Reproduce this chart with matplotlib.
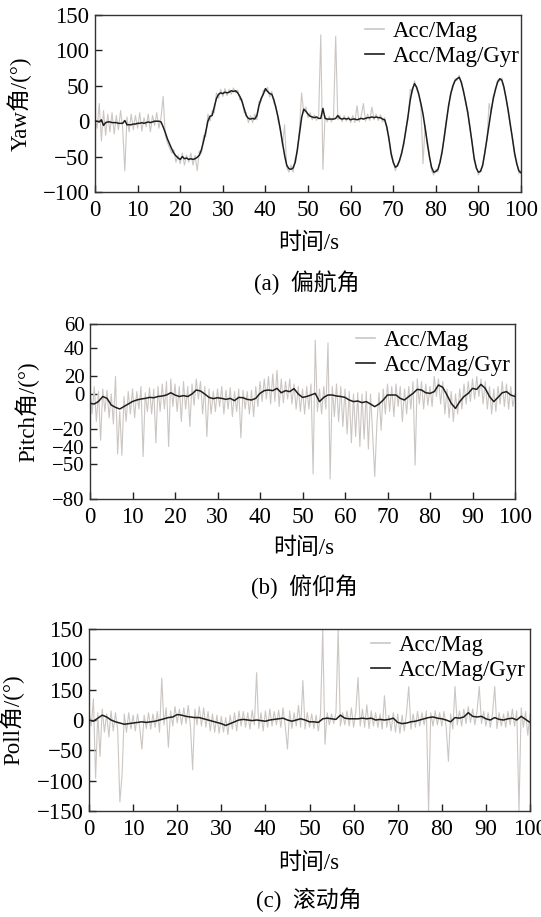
import numpy as np
import matplotlib
matplotlib.use("Agg")
import matplotlib.pyplot as plt

plt.rcParams['font.family'] = ['Liberation Serif', 'Noto Sans CJK SC', 'DejaVu Sans']
plt.rcParams['axes.unicode_minus'] = True

# ---------------- data ----------------
yaw_gyr = [0, 0, -1, 2, -6, -2, -1, -1, -2, -2, -2, -3, -3, -3, 1, -5, -5, -5, -4, -4,
           -3, -3, -2, -3, -2, -1, -2, -1, 0, 0, 0, -1, -8, -16, -25, -32, -39, -45, -49, -52,
           -54, -50, -53, -52, -54, -53, -54, -53, -51, -48, -40, -28, -15, 0, 7, 8, 20, 32, 38, 40,
           39, 41, 40, 41, 43, 42, 43, 40, 35, 28, 18, 8, 4, 3, 4, 3, 8, 22, 32, 38,
           46, 42, 39, 38, 30, 18, 5, -12, -30, -48, -62, -67, -68, -66, -58, -40, -18, 5, 17, 14,
           10, 7, 6, 5, 6, 4, 4, 18, 4, 3, 3, 3, 3, 4, 8, 4, 3, 4, 3, 4,
           2, 3, 3, 2, 3, 4, 3, 4, 5, 5, 6, 5, 6, 5, 5, 3, 2, -8, -25, -45,
           -58, -65, -63, -55, -45, -30, -12, 8, 30, 45, 53, 48, 38, 25, 10, -10, -30, -50, -65, -72,
           -71, -68, -58, -42, -22, 0, 22, 38, 50, 57, 60, 62, 55, 42, 28, 12, -8, -30, -52, -66,
           -72, -71, -62, -45, -25, -5, 15, 32, 45, 55, 60, 58, 48, 32, 15, -5, -25, -45, -60, -70,
           -73]
yaw_mag = [5, -10, 25, -28, 15, -20, 10, -15, 12, -18, 8, -12, 15, -10, -70, 6, -15, 10, -12, 8,
           -10, 12, -14, 5, -8, 10, -15, 8, -6, 12, -10, 5, 35, -20, -30, -38, -45, -40, -58, -48,
           -60, -45, -62, -48, -58, -45, -62, -48, -70, -42, -45, -20, -22, 10, 0, 15, 12, 40, 32, 45,
           35, 46, 36, 45, 38, 47, 40, 44, 30, 32, 12, 12, -2, 8, -2, 10, 2, 28, 28, 44,
           42, 48, 34, 42, 25, 22, 0, -8, -35, -5, -65, -72, -62, -72, -52, -45, -10, 40, 12, 20,
           5, 12, 2, 9, 1, 8, 122, -68, 8, -1, 7, -1, 6, 120, 2, 8, -1, 8, 0, 7,
           -2, 8, -2, 22, -1, 8, 25, 0, 10, 1, 20, 2, 10, 1, 9, -1, 5, -12, -22, -50,
           -55, -70, -60, -58, -42, -34, -8, 2, 45, 40, 57, 45, 40, 20, -60, -5, -35, -46, -70, -76,
           -68, -72, -54, -46, -18, 4, 18, 42, 46, 60, 58, 65, 52, 45, 24, 15, -12, -27, -56, -63,
           -76, -68, -65, -42, -28, 25, 12, 36, 42, 58, 57, 61, 45, 35, 12, -8, -22, -50, -57, -74,
           -70]

pitch_gyr = [-3.5, -4, -2, 2, 0.5, -4.8, -6.7, -8, -6, -4, -2, -0.8, 0, 0.5, 1.3, 1, 2, 2.4, 3.2, 5,
             3.2, 2, 2.7, 2, 4, 7.2, 6.4, 4, 1.3, 0.3, 1, 0.5, -0.3, 0.5, -1.3, 1.3, 1, -0.3, -0.8, 0.5,
             4.5, 6.7, 7.2, 6.7, 8.5, 5, 6.7, 5.9, 8.3, 4, 1.3, 2, 3.2, 4.5, -2.1, 1.3, 3.2, 3.2, 2.4, 2,
             1.3, -0.8, -2.1, -1.6, -2.9, -2.1, -4, -6.1, -4, -0.8, 3.2, 3.2, 3.2, 0.5, -0.8, 2, 4.5, 7.7, 7.2, 5,
             4.5, 5.9, 11.2, 9.3, 3.2, -3.5, -7.5, -2.1, 2, 4.5, 8.5, 7.7, 11.7, 8.5, 2, -2.1, 1.3, 5, 5.9, 3.2,
             2]
pitch_mag = [8, -12, 10, -18, 6, -33, 8, -10, 7, -15, 4, -20, 18, -44, -10, -45, 2, -18, 6, -12,
             8, -15, 6, -8, 10, -46, 5, -10, 9, -12, 8, -35, 10, -10, 12, -8, 14, -38, 16, -6,
             12, -10, 10, -18, 14, -8, 10, -22, 12, -5, 16, 0, 14, -12, 10, -30, 8, -12, 6, -10,
             8, -6, 10, -12, 7, -8, 9, -14, 6, -10, 8, -31, 7, -8, 6, -12, 7, -14, 10, -6,
             14, -2, 16, 0, 18, -4, 20, -2, 23, -6, 16, -3, 14, 0, 16, -4, 12, -8, 10, -10,
             8, -12, 10, -8, 12, -60, 47, -10, 8, -12, 10, -8, 45, -64, 10, -14, 12, -18, 10, -22,
             8, -28, 6, -35, 4, -30, 5, -38, 4, -32, 6, -40, 4, -28, -62, -20, 5, -25, 8, -12,
             12, -10, 10, -14, 12, -6, 10, -18, 8, -12, 10, -8, 14, -53, 16, -4, 14, -8, 12, -5,
             10, -6, 18, 2, 16, -4, 14, -12, 8, -15, 6, -18, 4, -12, 8, -8, 12, -4, 14, -2,
             16, 0, 18, 2, 16, -4, 14, -8, 10, -12, 8, -10, 10, -4, 14, -6, 12, -8, 10, -6,
             4]

roll_gyr = [0, -2, 3, 8, 5, 0, -3, -5, -7, -6, -5, -4, -3, -4, -3, -2, 0, 2, 4, 5,
            9, 8, 6, 5, 4, 4, 2, 0, -2, -4, -6, -9, -6, -3, 0, 1, 0, -1, 0, -1,
            -2, 0, 1, 2, 3, 0, -2, 0, 2, 0, -3, -3, -4, 2, 3, 2, 1, 8, 3, 2,
            2, 2, 3, 2, 3, 0, 1, 0, 1, 3, -4, -6, -5, -3, -2, 0, 2, 4, 5, 3,
            2, 0, -3, 4, 3, 5, 12, 6, 5, 6, 2, 0, 4, 1, 0, 2, 3, 0, 6, 1,
            -4]
roll_mag = [15, -10, 35, -96, 12, -60, 18, -20, 10, -28, 15, -18, 12, -15, -135, -90, 10, -20, 12, -15,
            8, -18, 10, -12, -48, 8, -14, 12, -15, 10, -12, 14, -20, 69, -8, 20, -45, 15, -10, 22,
            -5, 18, -8, 20, -6, 24, -10, -82, 18, -8, 22, -10, 20, -12, 14, -18, 10, -20, 8, -22,
            6, -20, 4, -24, 8, -15, 12, -18, 15, -10, 14, -12, 12, -15, 16, -8, 78, -14, 12, -18,
            15, -12, 18, -10, 14, -8, 16, -12, 20, -10, -48, 15, -14, 12, -10, 24, -12, 65, -15, 12,
            -12, 10, -14, 8, -18, 10, 150, -40, 12, -8, 10, -6, 12, 148, -10, 12, -8, 15, -10, 20,
            -12, 14, 70, -10, 18, -12, 25, -14, 15, -10, 12, -12, 10, -15, 40, -12, 8, -18, 12, -20,
            10, -22, 8, -18, 12, 55, -15, 10, -12, 14, -10, 12, -8, 15, -150, 12, -10, 15, -8, 12,
            -10, 14, -12, -68, 10, -15, 55, -8, 15, -10, 18, -6, 22, -4, 18, -8, 15, 55, -6, 14,
            -10, 12, -12, 10, 55, -14, 12, -10, 10, -12, 14, -8, 18, -10, 15, -150, 20, -12, 14, -25,
            10]

x_ticks = [0, 10, 20, 30, 40, 50, 60, 70, 80, 90, 100]
x_ticklabels = ['0', '10', '20', '30', '40', '50', '60', '70', '80', '90', '100']

yaw_ylim = (-100, 150)
yaw_ticks = [-100, -50, 0, 50, 100, 150]
yaw_ticklabels = ['\u2212100', '\u221250', '0', '50', '100', '150']

pitch_ylim = (-80, 60)
pitch_ticks = [60, 40.8, 18.4, 4.2, -23.8, -38.4, -51.8, -80]
pitch_ticklabels = ['60', '40', '20', '0', '\u221220', '\u221240', '\u221250', '\u221280']

roll_ylim = (-150, 150)
roll_ticks = [150, 100, 50, 0, -50, -100, -150]
roll_ticklabels = ['150', '100', '150', '0', '\u221250', '\u2212100', '\u2212150']

legend_labels = ['Acc/Mag', 'Acc/Mag/Gyr']
ylabels = ['Yaw角/(°)', 'Pitch角/(°)', 'Poll角/(°)']
captions = ['(a)  偏航角', '(b)  俯仰角', '(c)  滚动角']
xlabel = '时间/s'

# ---------------- layout ----------------
W, H = 541, 917
fig = plt.figure(figsize=(W / 100, H / 100), dpi=100)

def frac_rect(l, r, t, b):
    return [l / W, 1 - b / H, (r - l) / W, (b - t) / H]

fs_tick = 16.5
fs_leg = 16.5
fs_lab = 16.5

panels = [
    dict(rect=frac_rect(95, 521, 15, 192), mag=yaw_mag, gyr=yaw_gyr, ylim=yaw_ylim,
         yt=yaw_ticks, ytl=yaw_ticklabels, ylab_x=19, xlab_y=243, cap_y=283, cap_x=307, xlab_x=309,
         leg=(0.997, 0.965), yfs=fs_tick),
    dict(rect=frac_rect(90, 515, 324, 499), mag=pitch_mag, gyr=pitch_gyr, ylim=pitch_ylim,
         yt=pitch_ticks, ytl=pitch_ticklabels, ylab_x=27, xlab_y=548, cap_y=587, cap_x=304, xlab_x=304,
         leg=(0.99, 0.965), yfs=15),
    dict(rect=frac_rect(89, 530, 629, 811), mag=roll_mag, gyr=roll_gyr, ylim=roll_ylim,
         yt=roll_ticks, ytl=roll_ticklabels, ylab_x=12, xlab_y=863, cap_y=900, cap_x=309, xlab_x=309,
         leg=(0.99, 0.965), yfs=fs_tick),
]

gray = '#cbc6c2'
dark = '#1e1e1e'

for i, p in enumerate(panels):
    ax = fig.add_axes(p['rect'])
    tm = np.linspace(0, 100, len(p['mag']))
    tg = np.linspace(0, 100, len(p['gyr']))
    ax.plot(tm, p['mag'], color=gray, lw=0.8, label=legend_labels[0], zorder=2)
    ax.plot(tg, p['gyr'], color=dark, lw=1.1, label=legend_labels[1], zorder=3)
    ax.set_xlim(0, 100)
    ax.set_ylim(*p['ylim'])
    ax.set_xticks(x_ticks)
    ax.set_xticklabels(x_ticklabels)
    ax.set_yticks(p['yt'])
    ax.set_yticklabels(p['ytl'])
    ax.tick_params(direction='in', length=5, width=1, labelsize=fs_tick, pad=4,
                   top=False, right=False, colors='#222222', labelcolor='black')
    ax.tick_params(axis='x', pad=6)
    ax.tick_params(axis='y', labelsize=p['yfs'])
    for s in ax.spines.values():
        s.set_linewidth(1.0)
        s.set_color('#333333')
    leg = ax.legend(loc='upper right', bbox_to_anchor=p['leg'], frameon=False,
                    fontsize=fs_leg, handlelength=0.8, handletextpad=0.4,
                    labelspacing=0.15, borderpad=0, borderaxespad=0)
    for h in leg.get_lines():
        h.set_linewidth(1.2)
    r = p['rect']
    yc = r[1] + r[3] / 2
    fig.text(p['ylab_x'] / W, yc, ylabels[i], rotation=90, ha='center', va='center', fontsize=fs_lab)
    fig.text(p['xlab_x'] / W, 1 - p['xlab_y'] / H, xlabel, ha='center', va='center', fontsize=fs_lab)
    fig.text(p['cap_x'] / W, 1 - p['cap_y'] / H, captions[i], ha='center', va='center', fontsize=fs_lab)

fig.savefig('out.png', dpi=100)
